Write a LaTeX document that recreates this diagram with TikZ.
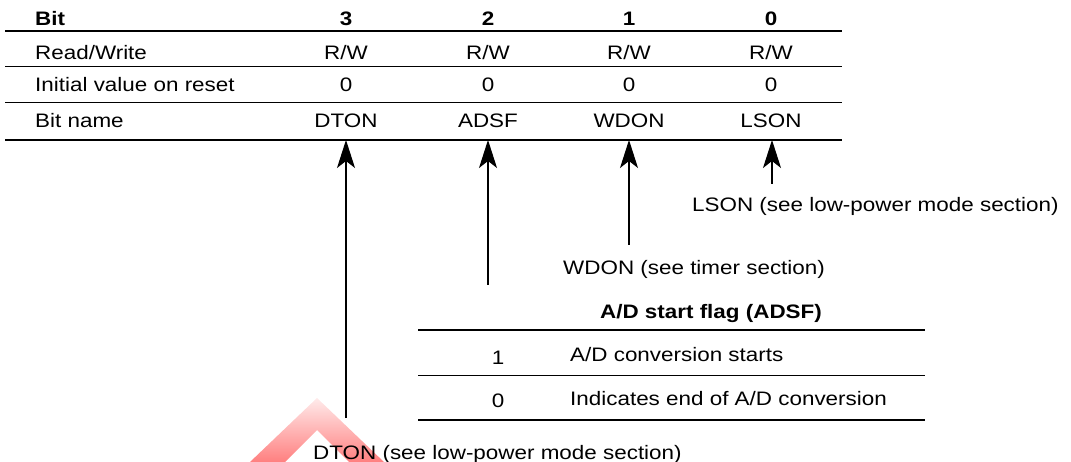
\documentclass[tikz,border=0pt]{standalone}
\usepackage{fontspec}
\setmainfont{Liberation Sans}[FakeStretch=1.15]
\usetikzlibrary{arrows.meta}
\begin{document}
\begin{tikzpicture}[x=1pt,y=-1pt,
  txt/.style={inner sep=0pt, font=\fontsize{19.5}{23}\selectfont},
  hd/.style={inner sep=0pt, font=\fontsize{19.5}{23}\selectfont\bfseries},
  thickrule/.style={line width=2pt},
  thinrule/.style={line width=0.9pt},
  arr/.style={line width=1.1pt, -{Stealth[length=28pt,width=18pt,inset=7pt]}}]
\useasboundingbox (0,0) rectangle (1071,462);
% faint watermark
\shade[top color=red!8, bottom color=red!50]
  (317,398) -- (384,462) -- (349,462) -- (317,430) -- (285,462) -- (250,462) -- cycle;
% register table
\node[hd, anchor=base west] (hbit) at (35,26) {Bit};
\node[hd, anchor=base] (h3) at (346,26) {3};
\node[hd, anchor=base] (h2) at (488,26) {2};
\node[hd, anchor=base] (h1) at (629,26) {1};
\node[hd, anchor=base] (h0) at (771,26) {0};
\draw[thickrule] (5,31) -- (842,31);
\node[txt, anchor=base west] (rw) at (35,60) {Read/Write};
\node[txt, anchor=base] (rw3) at (346,60) {R/W};
\node[txt, anchor=base] (rw2) at (488,60) {R/W};
\node[txt, anchor=base] (rw1) at (629,60) {R/W};
\node[txt, anchor=base] (rw0) at (771,60) {R/W};
\draw[thinrule] (5,66) -- (842,66);
\node[txt, anchor=base west] (iv) at (35,92) {Initial value on reset};
\node[txt, anchor=base] (iv3) at (346,92) {0};
\node[txt, anchor=base] (iv2) at (488,92) {0};
\node[txt, anchor=base] (iv1) at (629,92) {0};
\node[txt, anchor=base] (iv0) at (771,92) {0};
\draw[thinrule] (5,102) -- (842,102);
\node[txt, anchor=base west] (bn) at (35,128) {Bit name};
\node[txt, anchor=base] (bn3) at (346,128) {DTON};
\node[txt, anchor=base] (bn2) at (488,128) {ADSF};
\node[txt, anchor=base] (bn1) at (629,128) {WDON};
\node[txt, anchor=base] (bn0) at (771,128) {LSON};
\draw[thickrule] (5,140) -- (842,140);
% arrows
\coordinate (t3) at (346,140); \coordinate (b3) at (346,418);
\coordinate (t2) at (488,140); \coordinate (b2) at (488,285);
\coordinate (t1) at (629,140); \coordinate (b1) at (629,245);
\coordinate (t0) at (772,140); \coordinate (b0) at (772,184);
\draw[arr] (b3) -- (t3);
\draw[arr] (b2) -- (t2);
\draw[arr] (b1) -- (t1);
\draw[arr] (b0) -- (t0);
% labels
\node[txt, anchor=base west] (l0) at (692,212) {LSON (see low-power mode section)};
\node[txt, anchor=base west] (l1) at (563,275) {WDON (see timer section)};
\node[txt, anchor=base west] (l3) at (313,459) {DTON (see low-power mode section)};
% ADSF table
\node[hd, anchor=base] (at) at (711,319) {A/D start flag (ADSF)};
\draw[thickrule] (418,330) -- (925,330);
\node[txt, anchor=base] (a1) at (498,364) {1};
\node[txt, anchor=base west] (a1t) at (570,361) {A/D conversion starts};
\draw[thinrule] (418,375) -- (925,375);
\node[txt, anchor=base] (a0) at (498,407) {0};
\node[txt, anchor=base west] (a0t) at (570,405) {Indicates end of A/D conversion};
\draw[thickrule] (418,420) -- (925,420);
\end{tikzpicture}
\end{document}
